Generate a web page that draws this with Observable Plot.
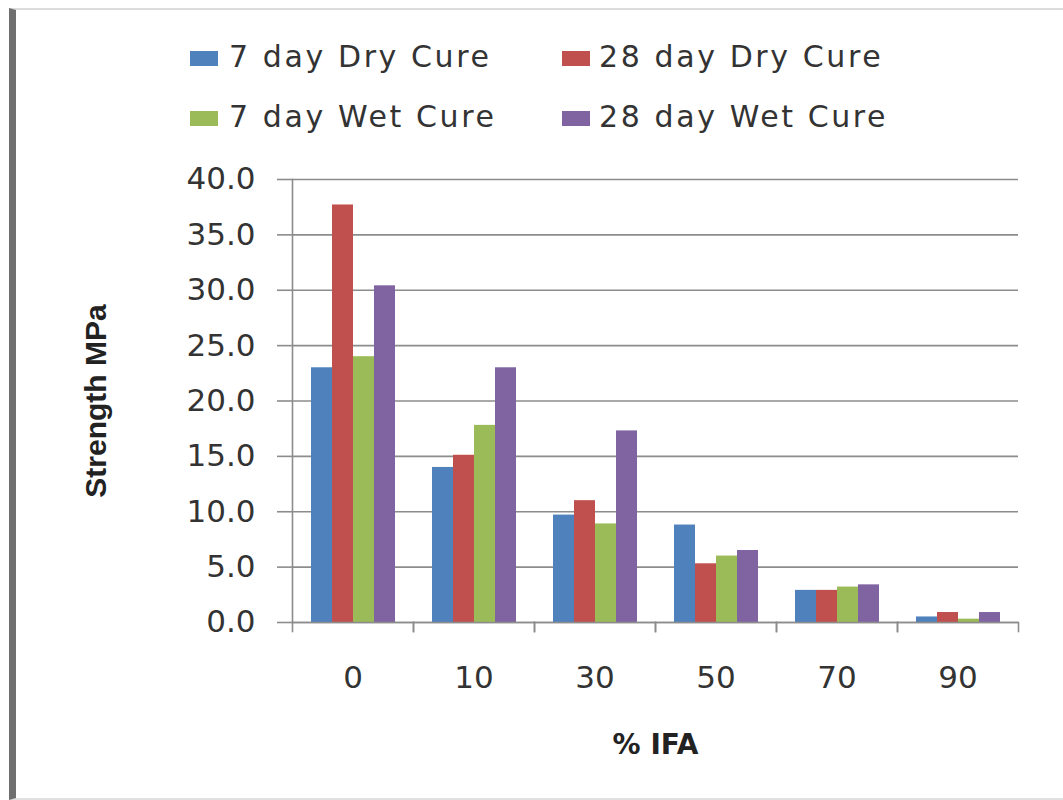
<!DOCTYPE html>
<html>
<head>
<meta charset="utf-8">
<script src="https://cdn.jsdelivr.net/npm/d3@7"></script>
<script src="https://cdn.jsdelivr.net/npm/@observablehq/plot@0.6"></script>
<style>
  html, body { margin: 0; padding: 0; background: #fff; }
  #page { position: relative; width: 1063px; height: 800px; overflow: hidden; background: #fff; }
  #box { position: absolute; left: 9px; top: 8px; width: 1060px; height: 788px;
         border-left: 7px solid #6f6f6f; border-top: 2px solid #dcdcdc; border-bottom: 2px solid #e0e0e0; }
  .lg { position: absolute; font-family: "DejaVu Sans", sans-serif; font-size: 30px; letter-spacing: 2.6px; color: #333; line-height: 1; }
  .sw { position: absolute; width: 28px; height: 15px; }
  #chart { position: absolute; left: 0; top: 150px; }
</style>
</head>
<body>
<div id="page">
  <div id="box"></div>
  <div id="legend"></div>
  <div id="chart"></div>
</div>
<script>
// ---- data ----
const categories = ["0", "10", "30", "50", "70", "90"];
const seriesNames = ["7 day Dry Cure", "28 day Dry Cure", "7 day Wet Cure", "28 day Wet Cure"];
const dry7  = [23.0, 14.0, 9.7, 8.8, 2.9, 0.5];
const dry28 = [37.7, 15.1, 11.0, 5.3, 2.9, 0.9];
const wet7  = [24.0, 17.8, 8.9, 6.0, 3.2, 0.3];
const wet28 = [30.4, 23.0, 17.3, 6.5, 3.4, 0.9];
const yTicks = [0, 5, 10, 15, 20, 25, 30, 35, 40];
const colors = ["#4F81BD", "#C0504D", "#9BBB59", "#8064A2"];

const seriesValues = [dry7, dry28, wet7, wet28];
const rows = [];
categories.forEach((c, i) => {
  seriesNames.forEach((s, j) => rows.push({cat: c, series: s, value: seriesValues[j][i]}));
});

// ---- legend (HTML above the plot) ----
const legend = document.getElementById("legend");
const legendPos = [
  {sx: 190, tx: 229, y: 58},
  {sx: 562, tx: 599, y: 58},
  {sx: 190, tx: 229, y: 118},
  {sx: 562, tx: 599, y: 118}
];
seriesNames.forEach((s, j) => {
  const p = legendPos[j];
  const sw = document.createElement("div");
  sw.className = "sw";
  sw.style.left = p.sx + "px";
  sw.style.top = (p.y - 7) + "px";
  sw.style.background = colors[j];
  legend.appendChild(sw);
  const t = document.createElement("div");
  t.className = "lg";
  t.style.left = p.tx + "px";
  t.style.top = (p.y - 16) + "px";
  t.textContent = s;
  legend.appendChild(t);
});

// ---- plot ----
const gridColor = "#8c8c8c";
const plotH = 650, mTop = 29, mBottom = 178;
const chart = Plot.plot({
  width: 1063,
  height: plotH,
  marginLeft: 290,
  marginRight: 43,
  marginTop: mTop,
  marginBottom: mBottom,
  style: {fontFamily: "DejaVu Sans, sans-serif", color: "#333", background: "transparent"},
  fx: {domain: categories, padding: 0},
  x: {domain: seriesNames, paddingInner: 0, paddingOuter: 0.83, axis: null},
  y: {domain: [0, 40]},
  color: {domain: seriesNames, range: colors},
  marks: [
    Plot.gridY(yTicks, {stroke: gridColor, strokeOpacity: 1, strokeWidth: 1.6}),
    Plot.barY(rows, {fx: "cat", x: "series", y: "value", fill: "series"}),
    Plot.ruleY([0], {stroke: gridColor, strokeWidth: 1.6}),
    Plot.frame({anchor: "left", facet: "super", stroke: gridColor, strokeWidth: 1.6}),
    Plot.frame({anchor: "left", stroke: gridColor, strokeWidth: 1.6, insetTop: plotH - mTop - mBottom, insetBottom: -9}),
    Plot.frame({anchor: "right", stroke: gridColor, strokeWidth: 1.6, insetTop: plotH - mTop - mBottom, insetBottom: -9}),
    Plot.axisY({ticks: yTicks, tickFormat: d => d3.format(".1f")(d), tickSize: 15, tickPadding: 22,
                stroke: gridColor, strokeWidth: 1.6, fontSize: 31, fill: "#333", label: null,
                style: {letterSpacing: "4px"}}),
    Plot.axisY({ticks: [], tickSize: 0, label: "Strength MPa", labelArrow: "none", labelAnchor: "center", labelOffset: 208,
                fontSize: 30, fontFamily: "Liberation Sans, Arial, sans-serif", fontWeight: "bold", fill: "#222"}),
    Plot.axisFx({anchor: "bottom", tickSize: 0, tickPadding: 43, fontSize: 31, fill: "#333", label: null,
                 style: {letterSpacing: "2px"}}),
    Plot.axisFx({anchor: "bottom", ticks: [], tickSize: 0, label: "% IFA", labelArrow: "none", labelAnchor: "center", labelOffset: 131,
                 fontSize: 28, fontWeight: "bold", fill: "#222", style: {letterSpacing: "1px"}})
  ]
});
document.getElementById("chart").appendChild(chart);
</script>
</body>
</html>
